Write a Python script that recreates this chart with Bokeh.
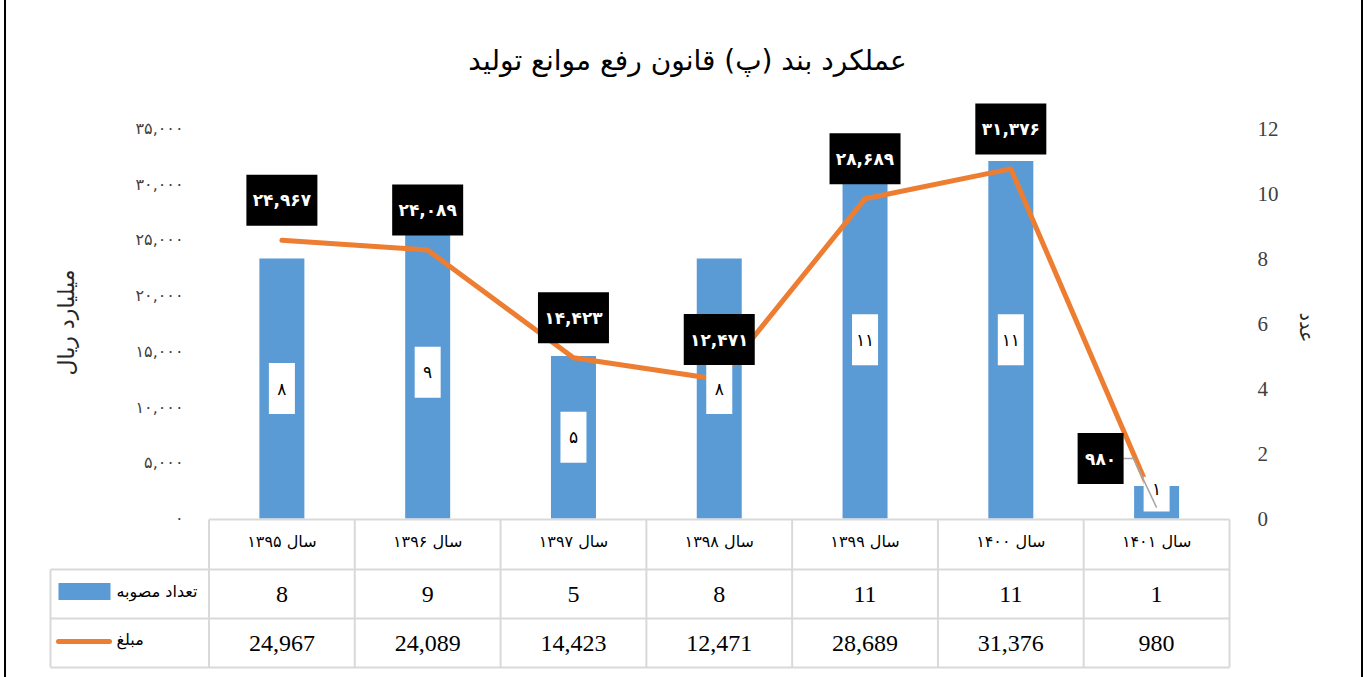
import math
from bokeh.plotting import figure
from bokeh.models import Range1d, LinearAxis, FixedTicker, Label
from bokeh.core.properties import value
from bokeh.embed import file_html
from bokeh.resources import INLINE

# ---------------- data ----------------
title_text = "عملکرد بند (پ) قانون رفع موانع تولید"
years = ["سال ۱۳۹۵", "سال ۱۳۹۶", "سال ۱۳۹۷", "سال ۱۳۹۸", "سال ۱۳۹۹", "سال ۱۴۰۰", "سال ۱۴۰۱"]
counts = [8, 9, 5, 8, 11, 11, 1]
amounts = [24967, 24089, 14423, 12471, 28689, 31376, 980]
count_name = "تعداد مصوبه"
amount_name = "مبلغ"
left_axis_title = "میلیارد ریال"
right_axis_title = "عدد"
left_ticks = [0, 5000, 10000, 15000, 20000, 25000, 30000, 35000]
left_tick_labels = ["۰", "۵,۰۰۰", "۱۰,۰۰۰", "۱۵,۰۰۰", "۲۰,۰۰۰", "۲۵,۰۰۰", "۳۰,۰۰۰", "۳۵,۰۰۰"]
right_ticks = [0, 2, 4, 6, 8, 10, 12]

# ---------------- layout (page pixels) ----------------
FA = str.maketrans("0123456789", "۰۱۲۳۴۵۶۷۸۹")
OX, OY = 6, 0                 # canvas origin on the page
W, H = 1359, 677
FL, FR, FT, FB = 45, 1345, 30, 677
COL0, COLN = 208.5, 1229
CW = (COLN - COL0) / len(years)
Y0, YTOP = 518, 128
K = 35000 / (Y0 - YTOP)     # amount units per pixel
KC = 12 / (Y0 - YTOP)       # count units per pixel

def dx(sx):
    return (sx - (COL0 + CW / 2)) / CW

def dy(sy):
    return (Y0 - sy) * K

BLUE = "#5B9BD5"
ORANGE = "#ED7D31"
GRID = "#D9D9D9"
AR = "DejaVu Sans"
SERIF = "Liberation Serif"

p = figure(width=W, height=H, x_range=Range1d(dx(FL), dx(FR)), y_range=Range1d(dy(FB), dy(FT)),
           output_backend="svg", toolbar_location=None, x_axis_location=None,
           min_border_left=FL - OX, min_border_right=OX + W - FR,
           min_border_top=FT - OY, min_border_bottom=OY + H - FB,
           outline_line_color=None, background_fill_color="white", border_fill_color="white")
p.grid.visible = False
p.styles = {"margin-left": "4px", "border-left": "2px solid black", "border-right": "2px solid black"}

# left axis (amount)
ya = p.yaxis[0]
ya.fixed_location = dx(188)
ya.ticker = FixedTicker(ticks=left_ticks)
ya.major_label_overrides = {t: l for t, l in zip(left_ticks, left_tick_labels)}
ya.axis_line_color = None
ya.major_tick_line_color = None
ya.minor_tick_line_color = None
ya.major_tick_out = 0
ya.major_label_standoff = 5
ya.major_label_text_font = AR
ya.major_label_text_font_size = "16px"
ya.major_label_text_color = "#404040"

# right axis (count)
p.extra_y_ranges = {"cnt": Range1d((Y0 - FB) * KC, (Y0 - FT) * KC)}
ra = LinearAxis(y_range_name="cnt", ticker=FixedTicker(ticks=right_ticks))
ra.fixed_location = dx(COLN)
ra.axis_line_color = None
ra.major_tick_line_color = None
ra.minor_tick_line_color = None
ra.major_tick_out = 0
ra.major_label_standoff = 28
ra.major_label_text_font = SERIF
ra.major_label_text_font_size = "21px"
ra.major_label_text_color = "#404040"
p.add_layout(ra, "right")

# axis titles
p.add_layout(Label(x=dx(66), y=dy(322), text=left_axis_title, angle=math.pi / 2,
                   text_align="center", text_baseline="middle", text_font=AR,
                   text_font_size="22px", text_color="#262626"))
p.add_layout(Label(x=dx(1306), y=dy(327), text=right_axis_title, angle=-math.pi / 2,
                   text_align="center", text_baseline="middle", text_font=AR,
                   text_font_size="19px", text_color="#262626"))

idx = list(range(len(years)))

# bars and line
p.vbar(x=idx, top=counts, bottom=0, width=45 / CW, y_range_name="cnt",
       fill_color=BLUE, line_color=None)
p.line(idx, amounts, line_width=5, line_color=ORANGE, line_cap="round", line_join="round")

# bar value labels (white boxes, kept clear of the bar base)
half = 25.5 * KC
box_bot = [max(c / 2 - half, 7 * KC) for c in counts]
box_top = [c / 2 + half for c in counts]
box_mid = [(b + t) / 2 for b, t in zip(box_bot, box_top)]
box_h = [t - b for b, t in zip(box_bot, box_top)]
p.rect(x=idx, y=box_mid, width=26, height=box_h, width_units="screen",
       y_range_name="cnt", fill_color="white", line_color=None)
txt_y = [c / 2 if c / 2 - half >= 7 * KC else t - 12 * KC for c, t in zip(counts, box_top)]
p.text(x=idx, y=txt_y, text=[str(c).translate(FA) for c in counts], y_range_name="cnt",
       text_align="center", text_baseline="middle", text_font=value(AR),
       text_font_size="17px", text_color="black")

# amount labels (black boxes)
lbl_dx = [0, 0, 0, 0, 0, 0, -56]
lbl_dy = [40, 40, 40, 40, 40, 40, 49]
amt_txt = [f"{a:,}".translate(FA) for a in amounts]
bx = [i + ox / CW for i, ox in zip(idx, lbl_dx)]
by = [a + oy * K for a, oy in zip(amounts, lbl_dy)]
bw = [21 + 25 * len(t) / 3 for t in amt_txt]

# leader line for the last label
last = len(years) - 1
lx_box = bx[last] + (bw[last] / 2) / CW
p.line([lx_box, lx_box + 10 / CW, idx[last]], [by[last], by[last], amounts[last]],
       line_color="#A6A6A6", line_width=1.5)

p.rect(x=bx, y=by, width=bw, height=51, width_units="screen", height_units="screen",
       fill_color="black", line_color=None)
p.text(x=bx, y=by, text=amt_txt, text_align="center", text_baseline="middle",
       text_font=value(AR), text_font_size="17px", text_color="white", text_font_style="bold")

# ---------------- data table ----------------
rows_y = [519, 569, 618, 667]
xs_left = dx(50)
seg_x0, seg_y0, seg_x1, seg_y1 = [], [], [], []
seg_x0.append(-0.5); seg_x1.append(len(years) - 0.5); seg_y0.append(dy(rows_y[0])); seg_y1.append(dy(rows_y[0]))
for ry in rows_y[1:]:
    seg_x0.append(xs_left); seg_x1.append(len(years) - 0.5); seg_y0.append(dy(ry)); seg_y1.append(dy(ry))
for i in range(len(years) + 1):
    seg_x0.append(i - 0.5); seg_x1.append(i - 0.5); seg_y0.append(dy(rows_y[0])); seg_y1.append(dy(rows_y[-1]))
seg_x0.append(xs_left); seg_x1.append(xs_left); seg_y0.append(dy(rows_y[1])); seg_y1.append(dy(rows_y[-1]))
p.segment(seg_x0, seg_y0, seg_x1, seg_y1, line_color=GRID, line_width=2)

hy = dy((rows_y[0] + rows_y[1]) / 2 - 3)
cy = dy((rows_y[1] + rows_y[2]) / 2)
ay = dy((rows_y[2] + rows_y[3]) / 2)
p.text(x=idx, y=[hy] * len(idx), text=years, text_align="center", text_baseline="middle",
       text_font=value(AR), text_font_size="16px", text_color="black")
p.text(x=idx, y=[cy] * len(idx), text=[str(c) for c in counts], text_align="center",
       text_baseline="middle", text_font=value(SERIF), text_font_size="24px", text_color="black")
p.text(x=idx, y=[ay] * len(idx), text=[f"{a:,}" for a in amounts], text_align="center",
       text_baseline="middle", text_font=value(SERIF), text_font_size="24px", text_color="black")

# legend keys inside the table
p.rect(x=[dx(84)], y=[dy(591)], width=52, height=17, width_units="screen", height_units="screen",
       fill_color=BLUE, line_color=None)
p.line([dx(58), dx(109)], [dy(641), dy(641)], line_width=5, line_color=ORANGE, line_cap="round")
p.text(x=[dx(116), dx(116)], y=[dy(591), dy(639)], text=[count_name, amount_name],
       text_align="left", text_baseline="middle", text_font=value(AR), text_font_size="16px",
       text_color="black")

# title
p.add_layout(Label(x=dx(687), y=dy(60), text=title_text, text_align="center",
                   text_baseline="middle", text_font=AR, text_font_size="28px",
                   text_color="black"))

open("out.html", "w").write(file_html(p, INLINE))
